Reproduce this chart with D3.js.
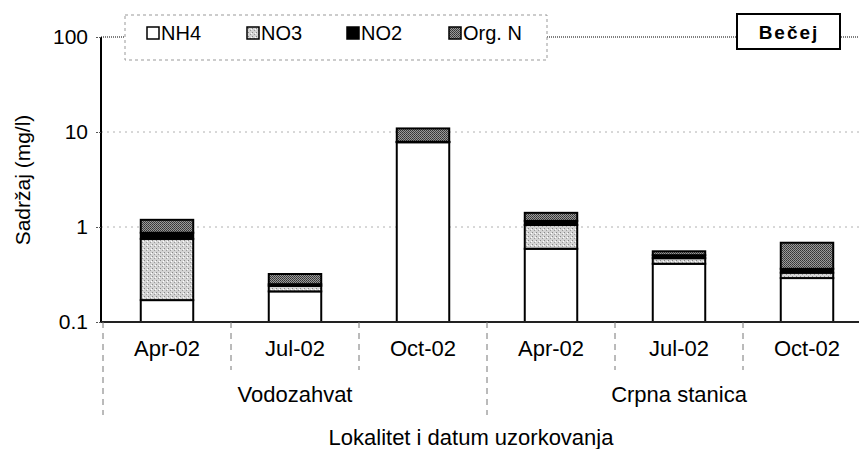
<!DOCTYPE html>
<html lang="en">
<head>
<meta charset="UTF-8">
<title>Bečej - Sadržaj azota</title>
<script src="https://d3js.org/d3.v7.min.js"></script>
<style>
  body { margin: 0; background: #fff; }
  svg { display: block; font-family: "Liberation Sans", Arial, sans-serif; }
</style>
</head>
<body>
<svg id="chart" width="859" height="449"></svg>
<script>
// data
const groups = ["Vodozahvat", "Crpna stanica"];
const dates = ["Apr-02", "Jul-02", "Oct-02", "Apr-02", "Jul-02", "Oct-02"];
const seriesNames = ["NH4", "NO3", "NO2", "Org. N"];
const nh4 = [0.17, 0.21, 7.8, 0.59, 0.41, 0.29];
const no3 = [0.58, 0.03, 0.05, 0.46, 0.06, 0.04];
const no2 = [0.12, 0.01, 0.05, 0.11, 0.035, 0.033];
const orgN = [0.32, 0.07, 3.0, 0.25, 0.05, 0.32];
const yTicks = [0.1, 1, 10, 100];

const svg = d3.select("#chart");
const width = +svg.attr("width");
const plotLeft = 101, plotBottom = 322, plotTop = 37;

// patterns for the scanned fills
const defs = svg.append("defs");
const p3 = defs.append("pattern").attr("id", "pNO3").attr("width", 4).attr("height", 4)
    .attr("patternUnits", "userSpaceOnUse");
p3.append("rect").attr("width", 4).attr("height", 4).attr("fill", "#d4d4d4");
p3.append("rect").attr("x", 0).attr("y", 0).attr("width", 1).attr("height", 1).attr("fill", "#888");
p3.append("rect").attr("x", 2).attr("y", 2).attr("width", 1).attr("height", 1).attr("fill", "#999");
p3.append("rect").attr("x", 3).attr("y", 1).attr("width", 1).attr("height", 1).attr("fill", "#fff");
const pO = defs.append("pattern").attr("id", "pOrg").attr("width", 2).attr("height", 2)
    .attr("patternUnits", "userSpaceOnUse");
pO.append("rect").attr("width", 2).attr("height", 2).attr("fill", "#9a9a9a");
pO.append("rect").attr("width", 1).attr("height", 1).attr("fill", "#333");
pO.append("rect").attr("x", 1).attr("y", 1).attr("width", 1).attr("height", 1).attr("fill", "#444");

const fills = ["#fff", "url(#pNO3)", "#000", "url(#pOrg)"];

const idx = d3.range(dates.length);
const x = d3.scaleBand().domain(idx).range([103, 871]).paddingInner(0.59).paddingOuter(0.295);
const y = d3.scaleLog().domain([0.1, 100]).range([plotBottom, plotTop]);

// grid lines
svg.append("g").selectAll("line")
    .data(yTicks.slice(1, 3)).join("line")
    .attr("x1", plotLeft).attr("x2", width)
    .attr("y1", d => y(d)).attr("y2", d => y(d))
    .attr("stroke", "#b0b0b0").attr("stroke-width", 1).attr("stroke-dasharray", "2,4");
svg.append("line")
    .attr("x1", plotLeft).attr("x2", width).attr("y1", y(100)).attr("y2", y(100))
    .attr("stroke", "#555").attr("stroke-width", 1.5).attr("stroke-dasharray", "1,1");

// stacked bars
const rows = idx.map(i => [nh4[i], no3[i], no2[i], orgN[i]]);
const bars = svg.append("g");
rows.forEach((vals, i) => {
  let base = 0.1;
  let acc = 0;
  vals.forEach((v, k) => {
    acc += v;
    bars.append("rect")
      .attr("x", x(i))
      .attr("width", x.bandwidth())
      .attr("y", y(acc))
      .attr("height", Math.max(0, y(base) - y(acc)))
      .attr("fill", fills[k])
      .attr("stroke", "#000").attr("stroke-width", 2);
    base = acc;
  });
});

// y axis
const yAxis = d3.axisLeft(y).tickValues(yTicks).tickFormat(d => String(d)).tickSize(6).tickPadding(7);
const ya = svg.append("g").attr("transform", `translate(${plotLeft},0)`).call(yAxis);
ya.select(".domain").attr("stroke", "#000").attr("stroke-width", 2).attr("d", `M0,${plotTop}V${plotBottom}`);
ya.selectAll(".tick line").attr("stroke", "#555").attr("stroke-dasharray", "2,1");
ya.selectAll("text").style("font-size", "21px").attr("fill", "#000");

// x baseline
svg.append("line").attr("x1", plotLeft).attr("x2", width).attr("y1", plotBottom).attr("y2", plotBottom)
    .attr("stroke", "#222").attr("stroke-width", 2);

// category separators
const step = x.step();
const edges = d3.range(dates.length + 1).map(i => 103 + i * step);
svg.append("g").selectAll("line").data(edges).join("line")
    .attr("x1", d => d).attr("x2", d => d)
    .attr("y1", plotBottom)
    .attr("y2", (d, i) => (i % 3 === 0 ? 415 : 370))
    .attr("stroke", "#777").attr("stroke-dasharray", "6,5");

// date labels
svg.append("g").selectAll("text").data(idx).join("text")
    .attr("x", i => x(i) + x.bandwidth() / 2)
    .attr("y", 356)
    .attr("text-anchor", "middle")
    .style("font-size", "22px")
    .text(i => dates[i]);

// group labels
svg.append("g").selectAll("text").data(groups).join("text")
    .attr("x", (d, i) => 103 + (i * 3 + 1.5) * step)
    .attr("y", 402)
    .attr("text-anchor", "middle")
    .style("font-size", "22px")
    .text(d => d);

// axis titles
svg.append("text")
    .attr("x", 471).attr("y", 445)
    .attr("text-anchor", "middle")
    .style("font-size", "22px")
    .text("Lokalitet i datum uzorkovanja");
svg.append("text")
    .attr("transform", `translate(30,180)rotate(-90)`)
    .attr("text-anchor", "middle")
    .style("font-size", "21px")
    .text("Sadržaj  (mg/l)");

// legend
const lg = svg.append("g");
lg.append("rect").attr("x", 125).attr("y", 15).attr("width", 422).attr("height", 45)
    .attr("fill", "#fff").attr("stroke", "#999").attr("stroke-dasharray", "3,3");
const legX = [147, 247, 347, 449];
seriesNames.forEach((s, k) => {
  lg.append("rect").attr("x", legX[k]).attr("y", 27).attr("width", 12).attr("height", 12)
    .attr("fill", fills[k]).attr("stroke", "#000").attr("stroke-width", 1.5);
  lg.append("text").attr("x", legX[k] + 14).attr("y", 40)
    .style("font-size", "20px").text(s);
});

// title box
svg.append("rect").attr("x", 737).attr("y", 14).attr("width", 103).attr("height", 35)
    .attr("fill", "#fff").attr("stroke", "#000").attr("stroke-width", 2);
svg.append("text").attr("x", 789).attr("y", 39).attr("text-anchor", "middle")
    .style("font-size", "19px").style("font-weight", "bold").style("letter-spacing", "2px")
    .text("Bečej");
</script>
</body>
</html>
